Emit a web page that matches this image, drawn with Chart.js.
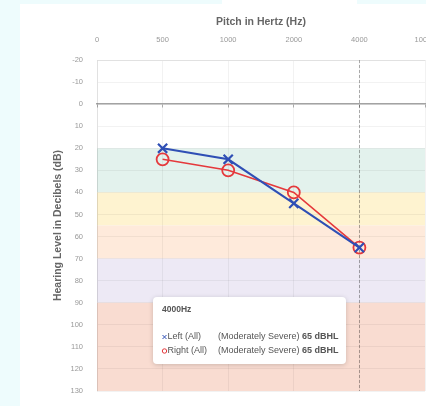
<!DOCTYPE html>
<html>
<head>
<meta charset="utf-8">
<script src="https://cdn.jsdelivr.net/npm/chart.js@4.4.1/dist/chart.umd.min.js"></script>
<style>
  html, body { margin: 0; padding: 0; }
  body { width: 426px; height: 406px; background: #eefcfd; position: relative; overflow: hidden; }
  #panel { position: absolute; left: 20px; top: 4px; right: 0; bottom: 0; background: #fff; }
  #notch { position: absolute; left: 222px; top: 0; width: 135px; height: 4px; background: #fff; }
  #wrap { position: absolute; left: 20px; top: 4px; width: 406px; height: 402px; }
</style>
</head>
<body>
<div id="notch"></div>
<div id="panel"></div>
<div id="wrap"><canvas id="audiogram"></canvas></div>
<script>
// audiogram data
const frequencies = ['0', '500', '1000', '2000', '4000', '10000'];
const leftEar = [null, 20, 25, 45, 65, null];
const rightEar = [null, 25, 30, 40, 65, null];

const yMin = -20;
const yMax = 130;
const yStep = 10;

// hearing loss bands (dBHL)
const bandFrom = [20, 40, 55, 70, 90];
const bandTo = [40, 55, 70, 90, 130];
const bandNames = ['Mild', 'Moderate', 'Moderately Severe', 'Severe', 'Profound'];

const hoverIndex = 4;

const bandColors = ['#e3f2ed', '#fef3d0', '#feeadb', '#ede9f5', '#f9dcd1'];
const BLUE = '#2f4fb5';
const RED = '#e5393c';
const FONT = "'Liberation Sans', Arial, sans-serif";

function severity(v) {
    for (let i = 0; i < bandFrom.length; i++) {
        if (v >= bandFrom[i] && v <= bandTo[i]) return bandNames[i];
    }
    return 'Normal';
}

const bandsPlugin = {
    id: 'bands',
    beforeDraw(chart) {
        const { ctx, chartArea, scales } = chart;
        ctx.save();
        bandFrom.forEach((from, i) => {
            const y1 = scales.y.getPixelForValue(from);
            const y2 = scales.y.getPixelForValue(bandTo[i]);
            ctx.fillStyle = bandColors[i];
            ctx.fillRect(chartArea.left, y1, chartArea.right - chartArea.left, y2 - y1);
        });
        ctx.restore();
    },
    beforeDatasetsDraw(chart) {
        // hover crosshair
        const { ctx, chartArea, scales } = chart;
        const x = Math.round(scales.x.getPixelForValue(hoverIndex)) + 0.5;
        ctx.save();
        ctx.strokeStyle = 'rgba(0,0,0,0.3)';
        ctx.lineWidth = 1;
        ctx.setLineDash([3, 2]);
        ctx.beginPath();
        ctx.moveTo(x, chartArea.top);
        ctx.lineTo(x, chartArea.bottom);
        ctx.stroke();
        ctx.restore();
    }
};

const tooltipPlugin = {
    id: 'fixedTip',
    afterDraw(chart) {
        const ctx = chart.ctx;
        const bx = 133, by = 293, bw = 193, bh = 67;
        ctx.save();
        ctx.shadowColor = 'rgba(0,0,0,0.18)';
        ctx.shadowBlur = 5;
        ctx.shadowOffsetY = 1;
        ctx.fillStyle = '#fff';
        ctx.beginPath();
        ctx.roundRect(bx, by, bw, bh, 4);
        ctx.fill();
        ctx.shadowColor = 'transparent';

        ctx.textBaseline = 'middle';
        ctx.fillStyle = '#555';
        ctx.font = 'bold 8.5px ' + FONT;
        ctx.fillText(frequencies[hoverIndex] + 'Hz', bx + 9, by + 13);

        const rows = [
            { name: 'Left (All)', v: leftEar[hoverIndex], color: BLUE, cross: true },
            { name: 'Right (All)', v: rightEar[hoverIndex], color: RED, cross: false }
        ];
        rows.forEach((r, i) => {
            const y = by + 40 + i * 14;
            ctx.strokeStyle = r.color;
            ctx.lineWidth = 1;
            ctx.beginPath();
            if (r.cross) {
                ctx.moveTo(bx + 9.5, y - 2); ctx.lineTo(bx + 13.5, y + 2);
                ctx.moveTo(bx + 13.5, y - 2); ctx.lineTo(bx + 9.5, y + 2);
            } else {
                ctx.arc(bx + 11.5, y, 2.2, 0, Math.PI * 2);
            }
            ctx.stroke();
            ctx.fillStyle = '#555';
            ctx.font = '9px ' + FONT;
            ctx.fillText(r.name, bx + 14.5, y);
            const sev = '(' + severity(r.v) + ') ';
            ctx.fillText(sev, bx + 65, y);
            const w = ctx.measureText(sev).width;
            ctx.font = 'bold 9px ' + FONT;
            ctx.fillText(r.v + ' dBHL', bx + 65 + w, y);
        });
        ctx.restore();
    }
};

new Chart(document.getElementById('audiogram'), {
    type: 'line',
    data: {
        labels: frequencies,
        datasets: [{
            label: 'Left (All)',
            data: leftEar,
            borderColor: BLUE,
            backgroundColor: BLUE,
            borderWidth: 2,
            pointStyle: 'crossRot',
            pointRadius: 6.5,
            pointBorderWidth: 2.2,
            fill: false
        }, {
            label: 'Right (All)',
            data: rightEar,
            borderColor: RED,
            backgroundColor: 'transparent',
            borderWidth: 1.6,
            pointStyle: 'circle',
            pointRadius: 6,
            pointBorderWidth: 1.8,
            fill: false
        }]
    },
    options: {
        responsive: true,
        maintainAspectRatio: false,
        animation: false,
        events: [],
        layout: { autoPadding: false, padding: { left: 0, right: 1, top: 0, bottom: 15 } },
        plugins: {
            legend: { display: false },
            tooltip: { enabled: false }
        },
        scales: {
            x: {
                position: 'top',
                offset: false,
                grid: { color: 'rgba(0,0,0,0.05)', drawTicks: false },
                border: { color: 'rgba(0,0,0,0.07)' },
                ticks: { color: '#999', font: { family: FONT, size: 7.5 }, padding: 16, maxRotation: 0, autoSkip: false },
                title: {
                    display: true,
                    text: 'Pitch in Hertz (Hz)',
                    color: '#666',
                    font: { family: FONT, size: 10.5, weight: 'bold' },
                    padding: { top: 11.5, bottom: 0 }
                },
                afterFit(scale) {
                    scale.height = 56;
                    scale.paddingRight = 0;
                    scale.paddingLeft = 0;
                }
            },
            zero: {
                axis: 'x',
                type: 'category',
                position: { y: 0 },
                offset: false,
                grid: { drawOnChartArea: false, drawTicks: true, tickLength: 3, color: '#aaa' },
                border: { color: '#a3a3a3', width: 1.5 },
                ticks: { display: false }
            },
            y: {
                reverse: true,
                min: yMin,
                max: yMax,
                grid: { color: 'rgba(0,0,0,0.05)', drawTicks: false },
                border: { color: 'rgba(0,0,0,0.07)' },
                ticks: { stepSize: yStep, color: '#999', font: { family: FONT, size: 7.5 }, padding: 14 },
                title: {
                    display: true,
                    text: 'Hearing Level in Decibels (dB)',
                    color: '#666',
                    font: { family: FONT, size: 10.5, weight: 'bold' },
                    padding: { top: 31.5, bottom: 0 }
                },
                afterFit(scale) {
                    scale.width = 77;
                    scale.paddingTop = 0;
                    scale.paddingBottom = 0;
                }
            }
        }
    },
    plugins: [bandsPlugin, tooltipPlugin]
});
</script>
</body>
</html>
